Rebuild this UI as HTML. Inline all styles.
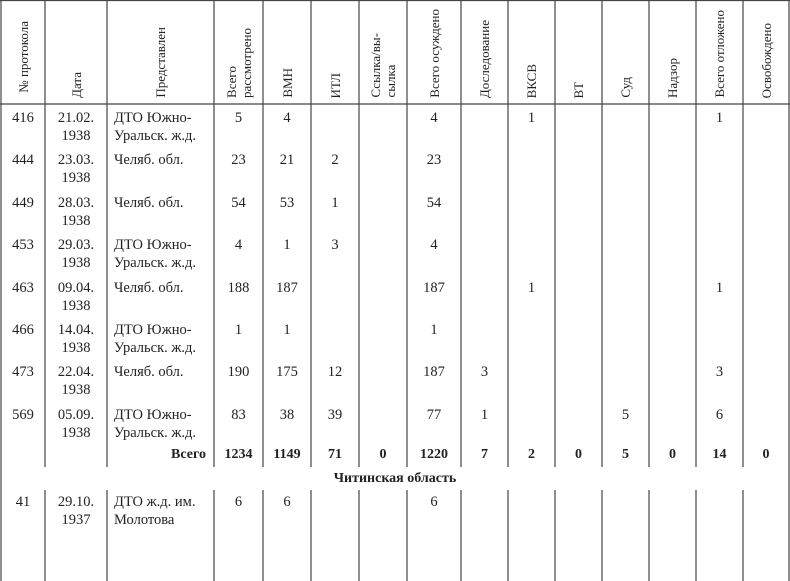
<!DOCTYPE html>
<html><head><meta charset="utf-8">
<style>
body{margin:0;background:#fff;}
#c{position:relative;width:790px;height:581px;overflow:hidden;font-family:"Liberation Serif",serif;font-size:14.5px;color:#222;}
.t{position:absolute;white-space:nowrap;line-height:18px;}
.h{position:absolute;top:0;height:98px;display:flex;align-items:flex-end;justify-content:center;}
.h span{writing-mode:vertical-rl;text-orientation:sideways;transform:rotate(180deg);line-height:15px;white-space:nowrap;font-size:13px;}
.b{font-weight:bold;font-family:"Liberation Sans Narrow","Liberation Serif",serif;font-size:14px}
</style></head><body><div id="c">
<svg width="790" height="581" style="position:absolute;left:0;top:0" id="s"></svg>
</div>
<script>
var X=[1,45,107,214,263,311,359,407,461,508,555,602,649,696,743,789];
var c=document.getElementById('c'),s=document.getElementById('s');
var g='';
g+='<line x1="0" y1="0.5" x2="790" y2="0.5" stroke="#444" stroke-width="1.2"/>';
g+='<line x1="0" y1="104" x2="790" y2="104" stroke="#444" stroke-width="1.2"/>';
X.forEach(function(x,i){
 if(i==0||i==X.length-1){g+='<line x1="'+x+'" y1="0" x2="'+x+'" y2="581" stroke="#444" stroke-width="1.2"/>';}
 else{g+='<line x1="'+x+'" y1="0" x2="'+x+'" y2="467" stroke="#444" stroke-width="1.2"/>';
 g+='<line x1="'+x+'" y1="490" x2="'+x+'" y2="581" stroke="#444" stroke-width="1.2"/>';}
});
s.innerHTML=g;
var H=['№&nbsp;протокола','Дата','Представлен','Всего<br>рассмотрено','ВМН','ИТЛ','Ссылка/вы-<br>сылка','Всего&nbsp;осуждено','Доследование','ВКСВ','ВТ','Суд','Надзор','Всего&nbsp;отложено','Освобождено'];
H.forEach(function(h,i){var d=document.createElement('div');d.className='h';d.style.left=X[i]+'px';d.style.width=(X[i+1]-X[i])+'px';
 d.style.height=(i==0?93:98)+'px';d.innerHTML='<span>'+h+'</span>';c.appendChild(d);});
function txt(x,y,w,str,al,cls){var d=document.createElement('div');d.className='t'+(cls?' '+cls:'');d.style.top=(y-9)+'px';
 if(al=='l'){d.style.left=x+'px';}else if(al=='r'){d.style.left=(x-w)+'px';d.style.width=w+'px';d.style.textAlign='right';}
 else{d.style.left=x+'px';d.style.width=w+'px';d.style.textAlign='center';}
 d.innerHTML=str;c.appendChild(d);}
var R=[
[118,'416','21.02.<br>1938','ДТО Южно-<br>Уральск. ж.д.',['5','4','','','4','','1','','','','1','']],
[160,'444','23.03.<br>1938','Челяб. обл.',['23','21','2','','23','','','','','','','']],
[203,'449','28.03.<br>1938','Челяб. обл.',['54','53','1','','54','','','','','','','']],
[245,'453','29.03.<br>1938','ДТО Южно-<br>Уральск. ж.д.',['4','1','3','','4','','','','','','','']],
[288,'463','09.04.<br>1938','Челяб. обл.',['188','187','','','187','','1','','','','1','']],
[330,'466','14.04.<br>1938','ДТО Южно-<br>Уральск. ж.д.',['1','1','','','1','','','','','','','']],
[372,'473','22.04.<br>1938','Челяб. обл.',['190','175','12','','187','3','','','','','3','']],
[415,'569','05.09.<br>1938','ДТО Южно-<br>Уральск. ж.д.',['83','38','39','','77','1','','','5','','6','']],
[502,'41','29.10.<br>1937','ДТО ж.д. им.<br>Молотова',['6','6','','','6','','','','','','','']]
];
R.forEach(function(r){var y=r[0];
 txt(X[0],y,X[1]-X[0],r[1]);
 txt(X[1]+2,y,X[2]-X[1]-4,r[2]);
 txt(X[2]+7,y,0,r[3],'l');
 r[4].forEach(function(v,j){if(v)txt(X[3+j],y,X[4+j]-X[3+j],v);});
});
txt(206,455,90,'Всего','r','b');
['1234','1149','71','0','1220','7','2','0','5','0','14','0'].forEach(function(v,j){txt(X[3+j],455,X[4+j]-X[3+j],v,'c','b');});
txt(0,479,790,'Читинская область','c','b');
</script>
</body></html>
